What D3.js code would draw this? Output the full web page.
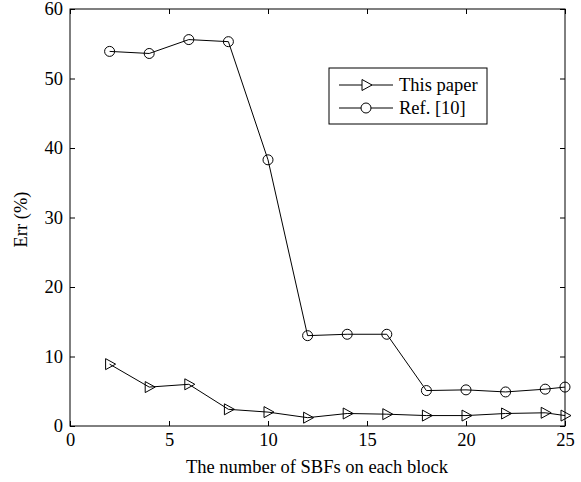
<!DOCTYPE html>
<html>
<head>
<meta charset="utf-8">
<script src="https://cdn.jsdelivr.net/npm/d3@7"></script>
<style>
body{margin:0;background:#fff;}
svg text{font-family:"Liberation Serif","Times New Roman",serif;fill:#000;}
</style>
</head>
<body>
<svg width="581" height="482"></svg>
<script>
// data
var xs = [2, 4, 6, 8, 10, 12, 14, 16, 18, 20, 22, 24, 25];
var thisPaper = [8.9, 5.6, 6.0, 2.4, 2.0, 1.2, 1.8, 1.7, 1.5, 1.5, 1.8, 1.9, 1.5];
var ref10 = [53.9, 53.6, 55.6, 55.3, 38.3, 13.0, 13.2, 13.2, 5.1, 5.2, 4.9, 5.3, 5.6];
var xTicks = [0, 5, 10, 15, 20, 25];
var yTicks = [0, 10, 20, 30, 40, 50, 60];
var seriesNames = ['This paper', 'Ref. [10]'];

// plot box (window.top is read-only, so keep these in an object)
var box = {left: 70, top: 9, right: 565, bottom: 426};
var w = box.right - box.left, h = box.bottom - box.top;
var fs = 18.5;

var svg = d3.select('svg');
var x = d3.scaleLinear().domain([0, 25]).range([0, w]);
var y = d3.scaleLinear().domain([0, 60]).range([h, 0]);

var root = svg.append('g').attr('transform', 'translate(' + box.left + ',' + box.top + ')');

// frame
root.append('rect').attr('width', w).attr('height', h)
	.attr('fill', 'none').attr('stroke', '#000').attr('stroke-width', 1);

// axes, ticks pointing inward
function styleAxis(g){
	g.select('.domain').remove();
	g.selectAll('line').attr('stroke', '#000');
	g.selectAll('text').attr('font-size', fs).attr('font-family', '"Liberation Serif",serif');
}
root.append('g').attr('transform', 'translate(0,' + h + ')')
	.call(d3.axisBottom(x).tickValues(xTicks).tickSizeInner(-5).tickSizeOuter(0).tickPadding(7))
	.call(styleAxis);
root.append('g')
	.call(d3.axisLeft(y).tickValues(yTicks).tickSizeInner(-5).tickSizeOuter(0).tickPadding(7))
	.call(styleAxis);
root.append('g')
	.call(d3.axisTop(x).tickValues(xTicks).tickSizeInner(-5).tickSizeOuter(0).tickFormat(''))
	.call(styleAxis);
root.append('g').attr('transform', 'translate(' + w + ',0)')
	.call(d3.axisRight(y).tickValues(yTicks).tickSizeInner(-5).tickSizeOuter(0).tickFormat(''))
	.call(styleAxis);

// labels
svg.append('text').attr('x', 317).attr('y', 473)
	.attr('text-anchor', 'middle').attr('font-size', fs)
	.text('The number of SBFs on each block');
svg.append('text').attr('transform', 'translate(27,' + (box.top + h / 2 + 2) + ') rotate(-90)')
	.attr('text-anchor', 'middle').attr('font-size', fs)
	.text('Err (%)');

var line = d3.line().x(function(d){ return x(d[0]); }).y(function(d){ return y(d[1]); });
var triPath = 'M-4,-5.5 L6,0 L-4,5.5 Z';

function drawSeries(vals, marker){
	var pts = xs.map(function(v, i){ return [v, vals[i]]; });
	root.append('path').datum(pts).attr('d', line)
		.attr('fill', 'none').attr('stroke', '#000').attr('stroke-width', 1);
	var g = root.append('g');
	pts.forEach(function(p){
		if (marker == 'circle') {
			g.append('circle').attr('cx', x(p[0])).attr('cy', y(p[1])).attr('r', 5)
				.attr('fill', 'none').attr('stroke', '#000');
		} else {
			g.append('path').attr('d', triPath)
				.attr('transform', 'translate(' + x(p[0]) + ',' + y(p[1]) + ')')
				.attr('fill', 'none').attr('stroke', '#000');
		}
	});
}
drawSeries(thisPaper, 'tri');
drawSeries(ref10, 'circle');

// legend
var lg = svg.append('g').attr('transform', 'translate(329,68)');
lg.append('rect').attr('width', 158).attr('height', 56)
	.attr('fill', '#fff').attr('stroke', '#000');
seriesNames.forEach(function(name, i){
	var yy = 17 + i * 23;
	lg.append('line').attr('x1', 10).attr('x2', 64).attr('y1', yy).attr('y2', yy).attr('stroke', '#000');
	if (i == 0) {
		lg.append('path').attr('d', triPath).attr('transform', 'translate(37,' + yy + ')')
			.attr('fill', '#fff').attr('stroke', '#000');
	} else {
		lg.append('circle').attr('cx', 37).attr('cy', yy).attr('r', 5)
			.attr('fill', '#fff').attr('stroke', '#000');
	}
	lg.append('text').attr('x', 70).attr('y', yy + 6).attr('font-size', fs).text(name);
});
</script>
</body>
</html>
